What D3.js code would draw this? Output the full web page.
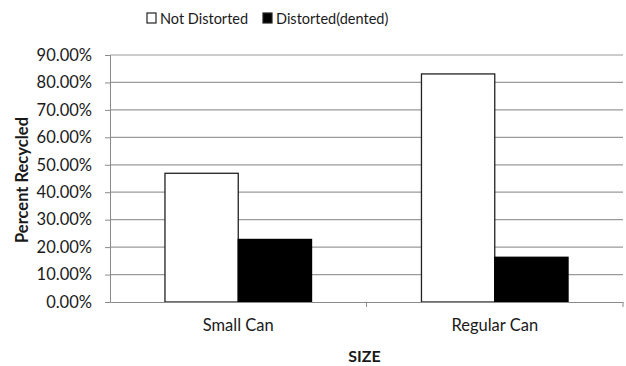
<!DOCTYPE html>
<html><head><meta charset="utf-8">
<script src="https://cdn.jsdelivr.net/npm/d3@7"></script>
<style>body{margin:0;background:#fff}svg{display:block}text{font-family:Lato,"Open Sans",sans-serif;fill:#1a1a1a}</style>
</head><body><svg id="c" width="626" height="366"></svg>
<script>
const categories = ["Small Can", "Regular Can"];
const seriesNames = ["Not Distorted", "Distorted(dented)"];
const notDistorted = [46.9, 83.1];
const distorted = [22.8, 16.3];
const yTicks = [0,10,20,30,40,50,60,70,80,90];

const svg = d3.select("#c");
const m = {l:110, r:623, t:55, b:302};
const x = d3.scaleBand().domain(categories).range([m.l, m.r]).paddingInner(0).paddingOuter(0);
const xs = d3.scaleBand().domain(seriesNames).range([0, x.bandwidth()]).paddingInner(0).paddingOuter(0.75);
const y = d3.scaleLinear().domain([0,90]).range([m.b, m.t]);

// gridlines
svg.append("g").selectAll("line").data(yTicks.filter(d=>d>0)).join("line")
  .attr("x1", m.l).attr("x2", m.r).attr("y1", d=>y(d)).attr("y2", d=>y(d))
  .attr("stroke", "#9a9a9a").attr("stroke-width", 1.2);

// y axis
const ya = svg.append("g").attr("transform", `translate(${m.l},0)`)
  .call(d3.axisLeft(y).tickValues(yTicks).tickSize(5).tickPadding(13).tickFormat(d=>d.toFixed(2)+"%"));
ya.select(".domain").attr("stroke", "#8a8a8a");
ya.selectAll(".tick line").attr("stroke", "#8a8a8a");
ya.selectAll("text").style("font-size","16.5px").style("font-family","Lato, sans-serif").attr("fill","#1a1a1a");

// bars
const data = categories.map((c,i)=>({c, vals:[notDistorted[i], distorted[i]]}));
const g = svg.append("g");
data.forEach(d=>{
  d.vals.forEach((v,j)=>{
    g.append("rect")
      .attr("x", x(d.c)+xs(seriesNames[j]))
      .attr("width", xs.bandwidth())
      .attr("y", y(v)).attr("height", y(0)-y(v))
      .attr("fill", j===0?"#fff":"#000")
      .attr("stroke", j===0?"#222":"#000").attr("stroke-width", 1.3);
  });
});

// x axis
const xa = svg.append("g").attr("transform", `translate(0,${m.b})`)
  .call(d3.axisBottom(x).tickSize(0).tickPadding(17));
xa.select(".domain").attr("stroke","#8a8a8a");
xa.selectAll("text").style("font-size","16.5px").style("font-family","Lato, sans-serif").attr("fill","#1a1a1a");
// category boundary ticks
svg.append("g").selectAll("line").data([categories[0], categories[1]]).join("line")
  .attr("x1", (d,i)=> i===0 ? x(d)+x.bandwidth() : m.r)
  .attr("x2", (d,i)=> i===0 ? x(d)+x.bandwidth() : m.r)
  .attr("y1", m.b).attr("y2", m.b+5).attr("stroke","#8a8a8a");

// axis titles
svg.append("text").attr("x", (m.l+m.r)/2 - 2).attr("y", 362).attr("text-anchor","middle")
  .style("font-size","16px").style("font-weight","bold").text("SIZE");
svg.append("text").attr("transform","translate(28,180) rotate(-90)").attr("text-anchor","middle")
  .style("font-size","16.5px").style("font-weight","bold").text("Percent Recycled");

// legend
const lg = svg.append("g");
const lx = [147, 263];
seriesNames.forEach((s,i)=>{
  lg.append("rect").attr("x", lx[i]).attr("y", 13).attr("width", 9).attr("height", 10)
    .attr("fill", i===0?"#fff":"#000").attr("stroke","#222").attr("stroke-width",1.2);
  lg.append("text").attr("x", lx[i]+13).attr("y", 23.5).style("font-size","14.5px").text(s);
});
</script></body></html>
